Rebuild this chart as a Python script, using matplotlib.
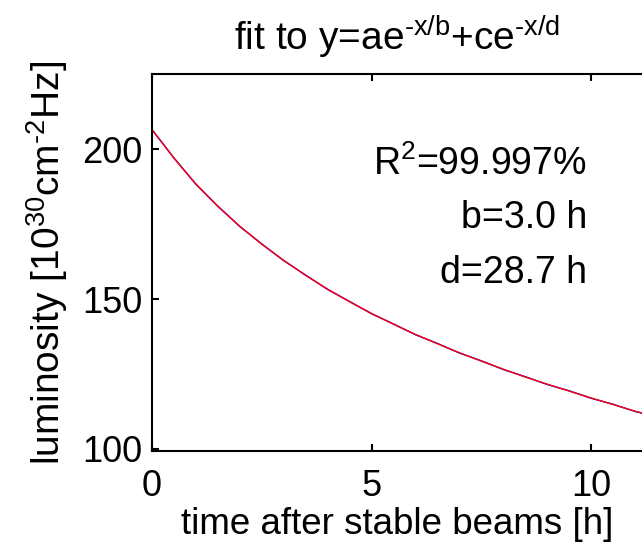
import numpy as np
import matplotlib
matplotlib.use("Agg")
import matplotlib.pyplot as plt

plt.rcParams['font.family'] = ['Liberation Sans', 'DejaVu Sans']
plt.rcParams['mathtext.fontset'] = 'custom'
plt.rcParams['mathtext.rm'] = 'Liberation Sans'
plt.rcParams['mathtext.it'] = 'Liberation Sans'
plt.rcParams['mathtext.default'] = 'regular'

# time after stable beams [h]
hours = [0.0, 0.5, 1.0, 1.5, 2.0, 2.5, 3.0, 3.5, 4.0, 4.5, 5.0, 5.5,
         6.0, 6.5, 7.0, 7.5, 8.0, 8.5, 9.0, 9.5, 10.0, 10.5, 11.0, 11.2]
# measured luminosity (blue)
lumi_meas = [206.5, 197.1, 188.3, 181.0, 174.2, 168.4, 162.8, 158.0, 153.2,
             149.2, 145.1, 141.7, 138.1, 135.2, 132.0, 129.4, 126.5, 124.1,
             121.5, 119.4, 116.9, 114.9, 112.5, 111.8]
# double exponential fit (red)
lumi_fit = [206.6, 197.0, 188.4, 180.9, 174.3, 168.3, 162.9, 157.9, 153.3,
            149.1, 145.2, 141.6, 138.2, 135.1, 132.1, 129.3, 126.6, 124.0,
            121.6, 119.3, 117.0, 114.8, 112.6, 111.8]

fig = plt.figure(figsize=(6.42, 5.51), dpi=100)
ax = fig.add_axes([152 / 642, 1 - 451 / 551, 490 / 642, 377 / 551])

ax.plot(hours, lumi_meas, color='blue', lw=1.0)
ax.plot(hours, lumi_fit, color='red', lw=1.0)

ax.set_xlim(0, 11.16)
ax.set_ylim(99.3, 225.1)
ax.set_xticks([0, 5, 10])
ax.set_yticks([100, 150, 200])
ax.tick_params(direction='in', length=5, width=1.5, labelsize=26, top=True,
               right=False)
ax.tick_params(axis='y', pad=7)
ax.tick_params(axis='x', pad=13)
ax.spines['right'].set_visible(False)
for s in ['left', 'top', 'bottom']:
    ax.spines[s].set_linewidth(1.5)

ax.set_title('fit to y=ae$^{\u2010x/b}$+ce$^{\u2010x/d}$', fontsize=28, pad=17)
ax.set_xlabel('time after stable beams [h]', fontsize=26.5, labelpad=2)
ax.set_ylabel('luminosity [10$^{30}$cm$^{\u20102}$Hz]', fontsize=28, labelpad=9)

ax.text(0.888, 0.762, 'R$^2$=99.997%', transform=ax.transAxes, fontsize=27,
        ha='right', va='center')
ax.text(0.888, 0.617, 'b=3.0 h', transform=ax.transAxes, fontsize=27,
        ha='right', va='center')
ax.text(0.888, 0.472, 'd=28.7 h', transform=ax.transAxes, fontsize=27,
        ha='right', va='center')

fig.savefig('out.png', dpi=100)
